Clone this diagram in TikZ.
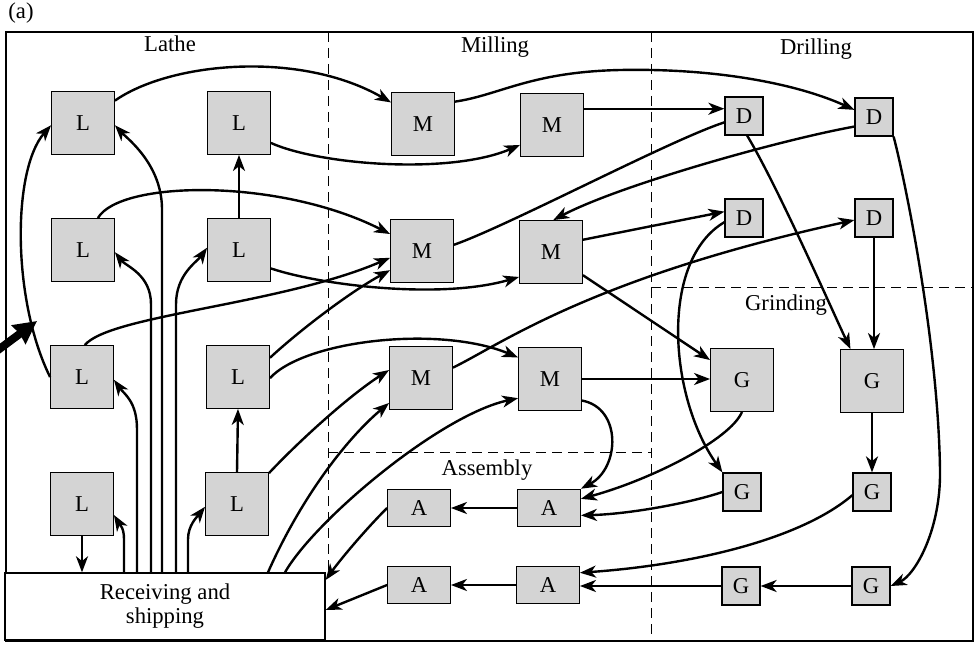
\documentclass[tikz,border=0pt]{standalone}
\usepackage{fontspec}
\setmainfont{Liberation Serif}
\usetikzlibrary{arrows.meta,calc}

\begin{document}
\begin{tikzpicture}[x=0.75pt,y=-0.75pt,
  font=\fontsize{17}{18}\selectfont,
  conn/.style={line width=1.8pt,-{Stealth[length=12pt,width=9pt,inset=3.5pt]}},
  link/.style={line width=1.8pt},
  mach/.style={draw,line width=0.9pt,fill=black!17,inner sep=0pt,
               minimum width=47pt,minimum height=47pt},
  smallmach/.style={mach,minimum width=28.5pt,minimum height=28.5pt},
  asm/.style={mach,minimum width=47pt,minimum height=28pt},
  zone/.style={line width=0.6pt,dash pattern=on 7.5pt off 4.5pt},
  zonelabel/.style={anchor=base,inner sep=0pt},
]
\useasboundingbox (0,0) rectangle (980,649);

% plant outline and department borders
\draw[line width=1.1pt] (6,32) rectangle (973,641);
\draw[zone] (328,32) -- (328,573);
\draw[zone] (651,32) -- (651,641);
\draw[zone] (328,452) -- (651,452);
\draw[zone] (651,287) -- (973,287);

\node[anchor=base,inner sep=0pt] (tag) at (21,19) {(a)};
\node[zonelabel] (tlathe) at (170,52) {Lathe};
\node[zonelabel] (tmill) at (495,53) {Milling};
\node[zonelabel] (tdrill) at (816,55) {Drilling};
\node[zonelabel] (tgrind) at (786,310) {Grinding};
\node[zonelabel] (tasm) at (487,475) {Assembly};

% receiving and shipping
\node[draw,line width=1pt,fill=white,minimum width=240pt,minimum height=50.25pt,
      align=center,inner sep=0pt] (R) at (165,606.5) {Receiving and\\shipping};

% lathes
\node[mach] (L1) at (83,123) {L};
\node[mach] (L2) at (83,250) {L};
\node[mach] (L3) at (82,377) {L};
\node[mach] (L4) at (82,504) {L};
\node[mach] (L5) at (239,123) {L};
\node[mach] (L6) at (239,250) {L};
\node[mach] (L7) at (238,377) {L};
\node[mach] (L8) at (237,504) {L};
% mills
\node[mach] (M1) at (423,124) {M};
\node[mach] (M2) at (552,125) {M};
\node[mach] (M3) at (422,251) {M};
\node[mach] (M4) at (551,252) {M};
\node[mach] (M5) at (421,378) {M};
\node[mach] (M6) at (550,379) {M};
% drills
\node[smallmach] (D1) at (744,116) {D};
\node[smallmach] (D2) at (874,117) {D};
\node[smallmach] (D3) at (744,218) {D};
\node[smallmach] (D4) at (874,218) {D};
% grinders
\node[mach] (G1) at (742,380) {G};
\node[mach] (G2) at (872,381) {G};
\node[smallmach] (G3) at (742,492) {G};
\node[smallmach] (G4) at (872,492) {G};
\node[smallmach] (G5) at (741,586) {G};
\node[smallmach] (G6) at (871,586) {G};
% assembly
\node[asm] (A1) at (419,508) {A};
\node[asm] (A2) at (549,508) {A};
\node[asm] (A3) at (419,585) {A};
\node[asm] (A4) at (548,585) {A};

% incoming material
\coordinate (inflow) at (-6,353);
\coordinate (inflowtip) at (37,321);
\draw[line width=6pt,-{Stealth[length=17pt,width=17pt,inset=1pt]}] (inflow) -- (inflowtip);

% flows from receiving into the lathes
\draw[conn] (L4.south) -- (L4.south |- R.north);
\draw[conn] ([xshift=-30.75pt]R.north) -- ++(0,-33) .. controls +(0,-12) and +(6,10) .. (L4.-19);
\draw[conn] ([xshift=-21pt]R.north) -- ++(0,-143) .. controls +(0,-28) and +(10,14) .. (L3.-5);
\draw[conn] ([xshift=-10.5pt]R.north) -- ++(0,-268) .. controls +(0,-30) and +(11,14) .. (L2.-4);
\draw[conn] ([xshift=-2.25pt]R.north) -- ++(0,-363) .. controls +(0,-45) and +(12,13) .. (L1.-4);
\draw[conn] ([xshift=8.25pt]R.north) -- ++(0,-268) .. controls +(0,-30) and +(-10,14) .. (L6.176);
\draw[conn] ([xshift=17.25pt]R.north) -- ++(0,-33) .. controls +(0,-14) and +(-8,10) .. (L8.185);

% lathe department
\draw[conn] (L3.180) .. controls (12,300) and (12,170) .. (L1.184);
\draw[conn] (L6.north) -- (L5.south);
\draw[conn] (L8.north) -- (L7.south);

% lathes to mills
\draw[conn] (L1.35) .. controls (170,62) and (300,50) .. (M1.146);
\draw[conn] (L5.-32) .. controls (320,165) and (450,175) .. (M2.212);
\draw[conn] (L2.65) .. controls (120,180) and (280,178) .. (M3.152);
\draw[conn] (L3.85) .. controls (110,315) and (280,305) .. (M3.192);
\draw[conn] (L6.-30) .. controls (320,285) and (440,300) .. (M4.218);
\draw[conn] (L7.31) .. controls (300,330) and (350,292) .. (M3.211);
\draw[conn] (L7.-2) .. controls (305,340) and (440,325) .. (M6.146);
\draw[conn] (L8.44) .. controls (300,440) and (350,395) .. (M5.166);
\draw[conn] ([xshift=77.25pt]R.north) .. controls (300,500) and (345,440) .. (M5.218);
\draw[conn] ([xshift=90pt]R.north) .. controls (315,520) and (440,415) .. (M6.211);

% mills and drills
\draw[conn] (M1.35) .. controls (500,95) and (530,72) .. (620,70)
            .. controls (720,68) and (800,85) .. (D2.160);
\draw[conn] (M2.27) -- (M2.27 -| D1.west);
\draw[link] (D1.198) .. controls (670,140) and (510,225) .. (M3.11);
\draw[conn] (D2.206) .. controls (780,140) and (620,185) .. (M4.86);
\draw[conn] (M4.21) -- (D3.162);
\draw[conn] (M5.18) .. controls (500,345) and (590,278) .. (D4.186);

% into grinding
\draw[conn] (M4.-36) -- (G1.148);
\draw[conn] (M6.east) -- (M6.east -| G1.west);
\draw[conn] (D1.-81) .. controls (777,185) and (832,310) .. (G2.124);
\draw[conn] (D4.south) -- (D4.south |- G2.north);
\draw[conn] (D3.192) .. controls (660,260) and (668,395) .. (G3.north west);
\draw[conn] (G2.south) -- (G2.south |- G4.north);
\draw[conn] (D2.south east) .. controls (905,180) and (938,340) .. (940,470)
            .. controls (941,530) and (915,575) .. (G6.east);
\draw[conn] (G6.west) -- (G5.east);

% into assembly
\draw[conn] (M6.-34) .. controls (622,408) and (620,468) .. (A2.north east);
\draw[conn] (G1.south) .. controls (730,440) and (650,480) .. (A2.16);
\draw[conn] (G3.west) .. controls (690,503) and (630,514) .. (A2.-13);
\draw[conn] (G4.189) .. controls (800,540) and (690,565) .. (A4.21);
\draw[conn] (G5.west) -- (G5.west -| A4.east);
\draw[conn] (A2.west) -- (A1.east);
\draw[conn] (A4.west) -- (A4.west -| A3.east);

% back to shipping
\draw[conn] (A1.west) .. controls (365,530) and (340,560) .. ([yshift=19.9pt]R.east);
\draw[conn] (A3.west) -- ([yshift=-2.6pt]R.east);

\end{tikzpicture}
\end{document}
